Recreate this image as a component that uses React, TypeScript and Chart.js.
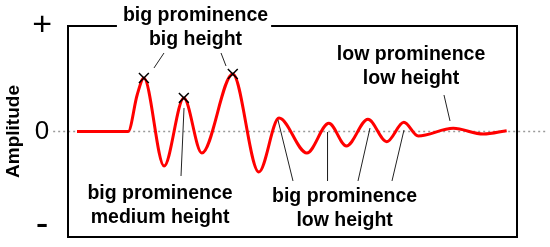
import { useEffect, useRef } from "react";
import { Chart, registerables } from "chart.js";

Chart.register(...registerables);

// ---- data (x: time units 0..100, y: amplitude -1..1) ----
const signalX = [2.0, 13.4, 15.4, 16.9, 21.4, 25.8, 29.8, 36.7, 42.5, 47.0, 53.2, 58.1, 62.0, 66.8, 71.0, 74.8, 78.0, 85.8, 92.5, 97.7];
const signalY = [0, 0, 0.346, 0.507, -0.327, 0.318, -0.204, 0.545, -0.384, 0.127, -0.204, 0.078, -0.137, 0.116, -0.097, 0.087, -0.043, 0.03, -0.024, 0.008];
const markedPeaks = [3, 5, 7];

const zeroLineX = [-3.3, 106.8];
const zeroLineY = [0, 0];

const yTickValues = [-0.89, 0, 1];
const yTickLabels = ["-", "0", "+"];

const leaderX1 = [19.15, 34.08, 25.84, 46.77, 57.8, 67.26, 74.83, 83.74];
const leaderY1 = [0.602, 0.744, 0.223, 0.109, -0.005, 0.033, 0.014, 0.346];
const leaderX2 = [21.38, 35.19, 25.17, 50.11, 57.8, 64.59, 72.16, 85.08];
const leaderY2 = [0.744, 0.621, -0.422, -0.469, -0.469, -0.469, -0.469, 0.1];

const annotationLines = [
  ["big prominence", "big height"],
  ["big prominence", "medium height"],
  ["big prominence", "low height"],
  ["low prominence", "low height"],
];
const annotationX = [28.4, 20.5, 61.6, 76.4];
const annotationY = [1.052, -0.64, -0.668, 0.682];

// ---- styles ----
const FONT = "'Liberation Sans', Arial, Helvetica, sans-serif";
const LABEL_FONT_SIZE = 19.5;
const LABEL_LINE_GAP = 24;
const knockoutFrame = [true, false, false, false];

const framePlugin = {
  id: "frameAndLabels",
  afterDatasetsDraw(chart: any) {
    const { ctx, chartArea: a, scales } = chart;
    ctx.save();
    ctx.strokeStyle = "#000";
    ctx.lineWidth = 2;
    ctx.strokeRect(a.left, a.top, a.right - a.left, a.bottom - a.top);

    ctx.font = `bold ${LABEL_FONT_SIZE}px ${FONT}`;
    ctx.textAlign = "center";
    ctx.textBaseline = "alphabetic";
    annotationLines.forEach((lines, i) => {
      const cx = scales.x.getPixelForValue(annotationX[i]);
      const by = scales.y.getPixelForValue(annotationY[i]);
      if (knockoutFrame[i]) {
        const w = ctx.measureText(lines[0]).width;
        ctx.fillStyle = "#fff";
        ctx.fillRect(cx - w / 2 - 6, by - 16, w + 9, 26);
      }
      ctx.fillStyle = "#000";
      lines.forEach((t, j) => ctx.fillText(t, cx, by + j * LABEL_LINE_GAP));
    });
    ctx.restore();
  },
};

export default function App() {
  const canvasRef = useRef<HTMLCanvasElement | null>(null);

  useEffect(() => {
    if (!canvasRef.current) return;
    Chart.defaults.font.family = FONT;

    const signal = signalX.map((x, i) => ({ x, y: signalY[i] }));
    const markers = markedPeaks.map((i) => ({ x: signalX[i], y: signalY[i] }));
    const zero = zeroLineX.map((x, i) => ({ x, y: zeroLineY[i] }));

    const leaders = leaderX1.map((x, i) => ({
      type: "line" as const,
      data: [
        { x, y: leaderY1[i] },
        { x: leaderX2[i], y: leaderY2[i] },
      ],
      borderColor: "#222",
      borderWidth: 1,
      pointRadius: 0,
      tension: 0,
      order: 1,
    }));

    const chart = new Chart(canvasRef.current, {
      type: "line",
      data: {
        datasets: [
          {
            data: markers,
            showLine: false,
            pointStyle: "crossRot",
            pointRadius: 7,
            pointBorderColor: "#000",
            pointBorderWidth: 1.5,
            borderColor: "#000",
            order: 0,
          } as any,
          ...leaders,
          {
            data: signal,
            borderColor: "#ff0000",
            borderWidth: 3,
            pointRadius: 0,
            cubicInterpolationMode: "monotone",
            order: 2,
          },
          {
            data: zero,
            borderColor: "#9a9a9a",
            borderWidth: 1.5,
            borderDash: [2, 3],
            pointRadius: 0,
            clip: false,
            order: 3,
          } as any,
        ],
      },
      options: {
        animation: false,
        responsive: false,
        devicePixelRatio: 1,
        layout: { padding: { top: 26, right: 33, bottom: 10, left: 0 } },
        plugins: { legend: { display: false }, tooltip: { enabled: false } },
        scales: {
          x: { type: "linear", min: 0, max: 100, display: false },
          y: {
            type: "linear",
            min: -1,
            max: 1,
            grid: { display: false, drawTicks: false },
            border: { display: false },
            afterBuildTicks: (scale: any) => {
              scale.ticks = yTickValues.map((v) => ({ value: v }));
            },
            afterFit: (scale: any) => {
              scale.width = 68;
              scale.paddingTop = 0;
              scale.paddingBottom = 0;
            },
            ticks: {
              autoSkip: false,
              color: "#000",
              padding: 16,
              crossAlign: "center",
              font: (c: any) => {
                const v = c.tick ? c.tick.value : 0;
                return { size: v === 0 ? 26 : v > 0 ? 34 : 38, family: FONT };
              },
              callback: (v: any) => {
                const i = yTickValues.indexOf(Number(v));
                return i >= 0 ? yTickLabels[i] : "";
              },
            },
            title: {
              display: true,
              text: "Amplitude",
              color: "#000",
              font: { size: 19, weight: "bold", family: FONT },
              padding: { top: 2.5, bottom: 0 },
            },
          },
        },
      },
      plugins: [framePlugin],
    });
    return () => chart.destroy();
  }, []);

  return (
    <div style={{ position: "fixed", left: 0, top: 0, width: 550, height: 247, background: "#fff" }}>
      <canvas ref={canvasRef} width={550} height={247} />
    </div>
  );
}
